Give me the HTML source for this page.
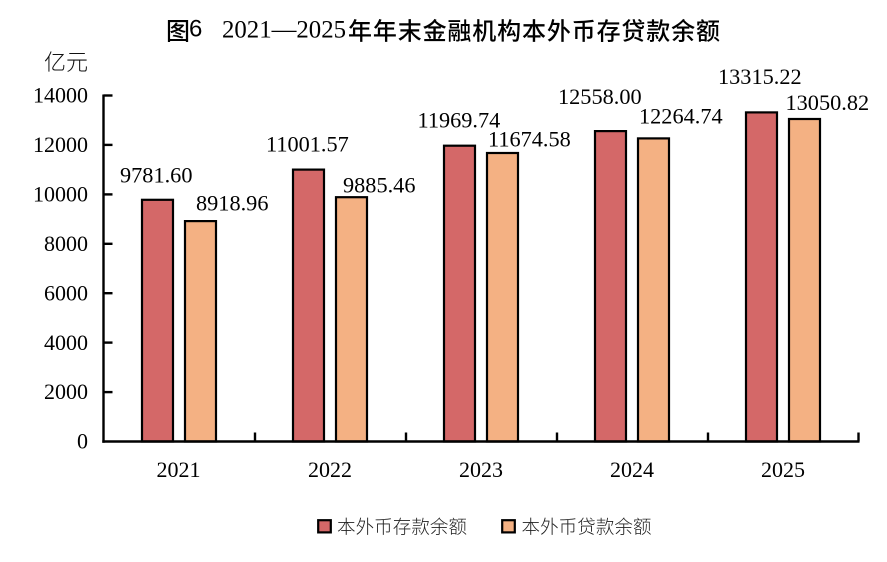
<!DOCTYPE html>
<html>
<head>
<meta charset="utf-8">
<style>
html,body{margin:0;padding:0;background:#fff;}
svg{display:block;}
</style>
</head>
<body>
<svg width="887" height="562" viewBox="0 0 887 562" xmlns="http://www.w3.org/2000/svg">
<rect width="887" height="562" fill="#fff"/>
<!-- Title -->
<text x="166" y="29" dominant-baseline="central" font-family="'Noto Sans CJK SC','WenQuanYi Zen Hei',sans-serif" font-size="24" font-weight="500" fill="#000">图</text>
<text x="189" y="29" dominant-baseline="central" font-family="'Liberation Sans','Noto Sans CJK SC',sans-serif" font-size="24" fill="#000">6</text>
<text x="222" y="37.5" font-family="'Liberation Serif',serif" font-size="25" fill="#000" textLength="124" lengthAdjust="spacingAndGlyphs">2021—2025</text>
<text x="348" y="29" dominant-baseline="central" font-family="'Noto Sans CJK SC','WenQuanYi Zen Hei',sans-serif" font-size="24" font-weight="500" fill="#000" textLength="372" lengthAdjust="spacing">年年末金融机构本外币存贷款余额</text>

<!-- Unit -->
<text x="44" y="61" dominant-baseline="central" font-family="'Noto Sans CJK SC','WenQuanYi Zen Hei',sans-serif" font-size="22" font-weight="300" fill="#111">亿元</text>

<!-- Y tick labels -->
<g font-family="'Liberation Serif',serif" font-size="22" fill="#000" text-anchor="end">
<text x="88" y="102.5">14000</text>
<text x="88" y="152">12000</text>
<text x="88" y="201.5">10000</text>
<text x="88" y="251">8000</text>
<text x="88" y="300.5">6000</text>
<text x="88" y="350">4000</text>
<text x="88" y="399">2000</text>
<text x="88" y="448.5">0</text>
</g>

<!-- Bars -->
<g stroke="#000" stroke-width="2.2">
<rect x="142" y="199.8" width="31" height="241.7" fill="#D46868"/>
<rect x="185" y="221.1" width="31" height="220.4" fill="#F4B183"/>
<rect x="293" y="169.6" width="31" height="271.9" fill="#D46868"/>
<rect x="336" y="197.2" width="31" height="244.3" fill="#F4B183"/>
<rect x="444" y="145.7" width="31" height="295.8" fill="#D46868"/>
<rect x="487" y="153.0" width="31" height="288.5" fill="#F4B183"/>
<rect x="595" y="131.1" width="31" height="310.4" fill="#D46868"/>
<rect x="638" y="138.4" width="31" height="303.1" fill="#F4B183"/>
<rect x="746" y="112.4" width="31" height="329.1" fill="#D46868"/>
<rect x="789" y="119.0" width="31" height="322.5" fill="#F4B183"/>
</g>

<!-- Axes -->
<g stroke="#000" stroke-width="2.4" fill="none">
<line x1="103.5" y1="94.5" x2="103.5" y2="442.7"/>
<line x1="102.3" y1="441.5" x2="859.5" y2="441.5"/>
<line x1="103.5" y1="95.5" x2="112.5" y2="95.5"/>
<line x1="103.5" y1="144.9" x2="112.5" y2="144.9"/>
<line x1="103.5" y1="194.4" x2="112.5" y2="194.4"/>
<line x1="103.5" y1="243.8" x2="112.5" y2="243.8"/>
<line x1="103.5" y1="293.2" x2="112.5" y2="293.2"/>
<line x1="103.5" y1="342.6" x2="112.5" y2="342.6"/>
<line x1="103.5" y1="392.1" x2="112.5" y2="392.1"/>
<line x1="255" y1="441.5" x2="255" y2="432.5"/>
<line x1="406" y1="441.5" x2="406" y2="432.5"/>
<line x1="557" y1="441.5" x2="557" y2="432.5"/>
<line x1="708" y1="441.5" x2="708" y2="432.5"/>
<line x1="858.5" y1="441.5" x2="858.5" y2="432.5"/>
</g>

<!-- X labels -->
<g font-family="'Liberation Serif',serif" font-size="22" fill="#000" text-anchor="middle">
<text x="178.5" y="477">2021</text>
<text x="330" y="477">2022</text>
<text x="481" y="477">2023</text>
<text x="632" y="477">2024</text>
<text x="783" y="477">2025</text>
</g>

<!-- Data labels -->
<g font-family="'Liberation Serif',serif" font-size="22.3" fill="#000">
<text x="120" y="182.3">9781.60</text>
<text x="196" y="210.7">8918.96</text>
<text x="266" y="151.7">11001.57</text>
<text x="343" y="192.3">9885.46</text>
<text x="417.5" y="127.3">11969.74</text>
<text x="488" y="146.7">11674.58</text>
<text x="558" y="104">12558.00</text>
<text x="639" y="123.3">12264.74</text>
<text x="718" y="84">13315.22</text>
<text x="785.5" y="110">13050.82</text>
</g>

<!-- Legend -->
<rect x="318.2" y="520.2" width="12.6" height="12.2" fill="#D46868" stroke="#000" stroke-width="2.2"/>
<text x="337" y="526.5" dominant-baseline="central" font-family="'Noto Sans CJK SC','WenQuanYi Zen Hei',sans-serif" font-size="18.5" font-weight="300" fill="#222" textLength="130" lengthAdjust="spacing">本外币存款余额</text>
<rect x="502.2" y="520.2" width="12.6" height="12.2" fill="#F4B183" stroke="#000" stroke-width="2.2"/>
<text x="521.5" y="526.5" dominant-baseline="central" font-family="'Noto Sans CJK SC','WenQuanYi Zen Hei',sans-serif" font-size="18.5" font-weight="300" fill="#222" textLength="130" lengthAdjust="spacing">本外币贷款余额</text>
</svg>
</body>
</html>
